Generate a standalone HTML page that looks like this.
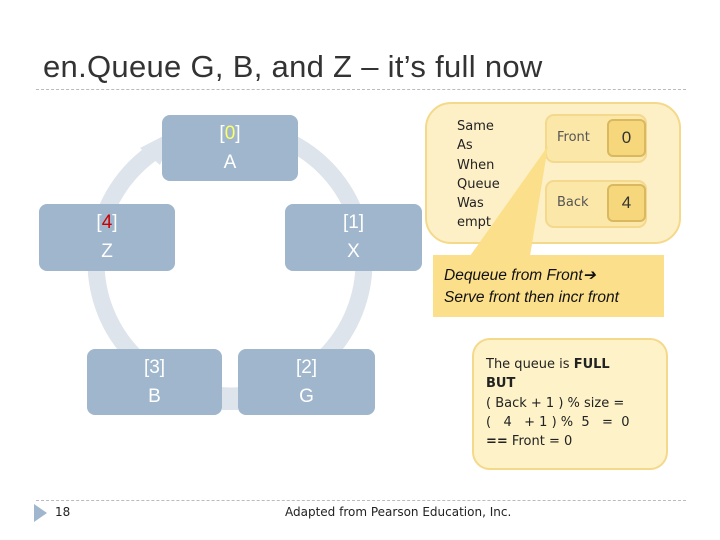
<!DOCTYPE html>
<html><head><meta charset="utf-8"><style>
body{margin:0;width:720px;height:540px;background:#fff;position:relative;overflow:hidden;font-family:"Liberation Sans",sans-serif}
.a{position:absolute}
.n{position:absolute;background:#9fb6cc;border-radius:8px;color:#fff;font-size:19px;text-align:center;line-height:29px;box-sizing:border-box;padding-top:4px}
.m{font-family:"DejaVu Sans",sans-serif;font-size:13px;color:#222}
</style></head><body>
<div class="a" style="left:43px;top:49px;font-size:31px;letter-spacing:0.3px;color:#333">en.Queue G, B, and Z – it’s full now</div>
<div class="a" style="left:36px;top:89px;width:650px;border-top:1px dashed #bbb"></div>
<svg class="a" style="left:0;top:0" width="720" height="540">
<circle cx="230" cy="262" r="134" fill="none" stroke="#dde4ec" stroke-width="17"/>
<polygon points="140,148 175,130 160,165" fill="#dde4ec"/>
<rect x="222" y="388" width="16" height="22" fill="#dde4ec"/>
</svg>
<div class="n" style="left:162px;top:115px;width:136px;height:66px">[<span style="color:#ffff66">0</span>]<br>A</div>
<div class="n" style="left:39px;top:204px;width:136px;height:67px">[<span style="color:#cc0000">4</span>]<br>Z</div>
<div class="n" style="left:285px;top:204px;width:137px;height:67px">[1]<br>X</div>
<div class="n" style="left:87px;top:349px;width:135px;height:66px">[3]<br>B</div>
<div class="n" style="left:238px;top:349px;width:137px;height:66px">[2]<br>G</div>
<div class="a" style="left:425px;top:102px;width:256px;height:142px;box-sizing:border-box;background:#fdf0c6;border:2px solid #f5d98b;border-radius:26px"></div>
<div class="a m" style="left:457px;top:117px;line-height:19.3px">Same<br>As<br>When<br>Queue<br>Was<br>empt</div>
<div class="a" style="left:545px;top:114px;width:102px;height:49px;box-sizing:border-box;background:#fbe7a8;border:2px solid #f3d88e;border-radius:9px"></div>
<div class="a" style="left:607px;top:119px;width:39px;height:38px;box-sizing:border-box;background:#f6d77c;border:2px solid #d9b860;border-radius:6px;text-align:center;line-height:34px;font-size:17px;color:#333">0</div>
<div class="a m" style="left:557px;top:130px;color:#555">Front</div>
<div class="a" style="left:545px;top:180px;width:102px;height:48px;box-sizing:border-box;background:#fbe7a8;border:2px solid #f3d88e;border-radius:9px"></div>
<div class="a" style="left:607px;top:184px;width:39px;height:38px;box-sizing:border-box;background:#f6d77c;border:2px solid #d9b860;border-radius:6px;text-align:center;line-height:34px;font-size:17px;color:#333">4</div>
<div class="a m" style="left:557px;top:195px;color:#555">Back</div>
<svg class="a" style="left:0;top:0" width="720" height="540"><polygon points="470,256 530,256 548,146" fill="#fbdf8a"/></svg>
<div class="a" style="left:433px;top:255px;width:231px;height:62px;background:#fbdf8a"></div>
<div class="a" style="left:444px;top:265px;font-size:15.5px;font-style:italic;line-height:22px;color:#111">Dequeue from Front➔<br>Serve front then incr front</div>
<div class="a" style="left:472px;top:338px;width:196px;height:132px;box-sizing:border-box;background:#fdf2c8;border:2px solid #f5d98b;border-radius:18px"></div>
<div class="a m" style="left:486px;top:355px;line-height:19.3px">The queue is <b>FULL</b><br><b>BUT</b><br>( Back + 1 ) % size =<br>(&nbsp;&nbsp;&nbsp;4&nbsp;&nbsp;&nbsp;+ 1 ) %&nbsp;&nbsp;5&nbsp;&nbsp;&nbsp;=&nbsp;&nbsp;0<br><b>==</b> Front = 0</div>
<div class="a" style="left:36px;top:500px;width:650px;border-top:1px dashed #bbb"></div>
<svg class="a" style="left:34px;top:504px" width="14" height="18"><polygon points="0,0 13,9 0,18" fill="#9fb6cc"/></svg>
<div class="a m" style="left:55px;top:505px;font-size:12px">18</div>
<div class="a m" style="left:285px;top:505px;font-size:12px">Adapted from Pearson Education, Inc.</div>
</body></html>
